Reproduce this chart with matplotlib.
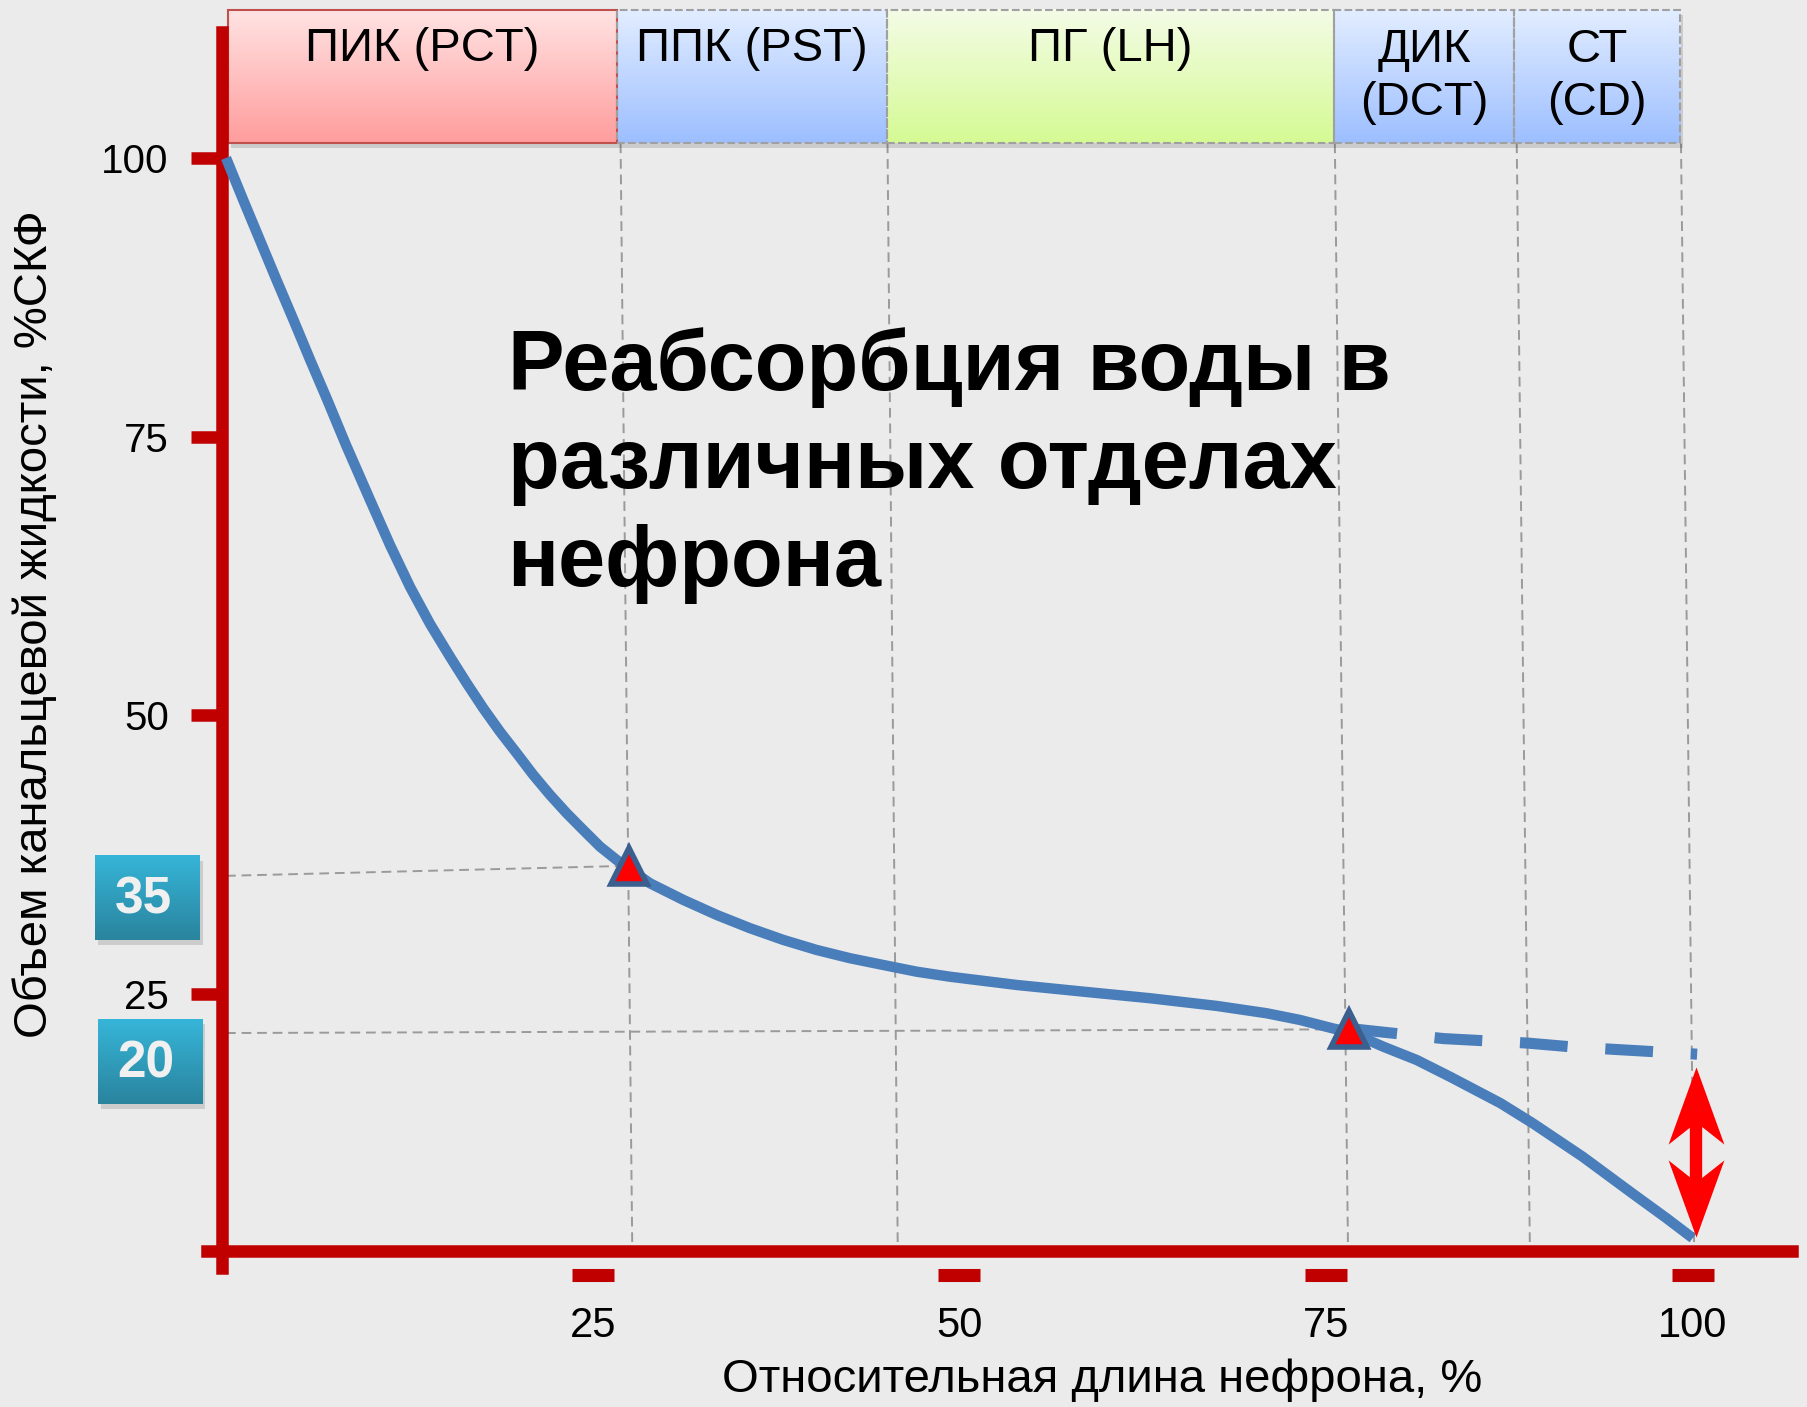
import numpy as np
import matplotlib.pyplot as plt
import matplotlib.colors as mcolors
from matplotlib.patches import Rectangle
from matplotlib.path import Path

plt.rcParams['font.family'] = ['Liberation Sans', 'DejaVu Sans']

# values (x: % of nephron length, y: % of GFR)
curve_x = [0, 1.18, 2.32, 3.46, 4.59, 5.73, 6.87, 8.18, 9.82, 11.18, 12.55, 13.91, 15.27,
           16.41, 17.54, 18.68, 19.82, 20.95, 22.09, 23.23, 24.36, 25.5, 26.64, 28.91,
           31.18, 33.46, 35.73, 38.0, 40.27, 42.54, 44.82, 47.09, 49.36, 53.91, 58.45,
           63.0, 67.55, 70.96, 73.23, 75.5, 76.6, 78.91, 81.18, 83.45, 86.9, 89.1, 92.5,
           95.9, 98.2, 100.0]
curve_y = [100, 96.2, 92.6, 89.0, 85.5, 81.9, 78.4, 74.25, 69.32, 65.28, 61.51, 58.2, 55.26,
           52.88, 50.63, 48.53, 46.6, 44.65, 42.86, 41.21, 39.71, 38.22, 37.02, 34.93,
           33.44, 32.09, 30.9, 29.85, 28.95, 28.21, 27.6, 27.0, 26.55, 25.81, 25.21,
           24.62, 23.93, 23.27, 22.67, 21.9, 21.6, 20.27, 19.08, 17.58, 15.2, 13.4, 10.4,
           7.1, 4.9, 3.1]
# without reabsorption in the collecting duct
nodh_x = [76.6, 83.0, 88.7, 91.8, 100.3]
nodh_y = [21.9, 21.0, 20.6, 20.25, 19.6]

mark_x = [27.48, 76.57]
mark_y = [36.5, 21.83]
guide_left_y = [35.6, 21.5]
mark_labels = ['35', '20']

regions = ['ПИК (PCT)', 'ППК (PST)', 'ПГ (LH)', 'ДИК\n(DCT)', 'СТ\n(CD)']
region_edges = [0.16, 26.65, 45.05, 75.55, 87.81, 99.14]
guide_top_x = [26.9, 45.1, 75.6, 88.0, 99.2]
guide_bot_x = [27.7, 45.8, 76.5, 88.9, 100.1]

y_ticks = [25, 50, 75, 100]
x_ticks = [25, 50, 75, 100]
gap_x = 100.2
gap_y = [3.23, 18.48]

BG = '#ebebeb'
RED = '#c00000'
BLUE = '#4a7ebb'

fig = plt.figure(figsize=(18.08, 14.07), dpi=100, facecolor=BG)
ax = fig.add_axes([0, 0, 1, 1], facecolor=BG)


def gradient_box(x0, x1, y0, y1, c_top, c_bot, z):
    c1 = np.array(mcolors.to_rgb(c_top))
    c2 = np.array(mcolors.to_rgb(c_bot))
    t = np.linspace(0, 1, 64)[:, None]
    img = (c1 * (1 - t) + c2 * t)[:, None, :]
    ax.add_patch(Rectangle((x0 + 0.2, y0 - 0.45), x1 - x0, y1 - y0, color='k',
                           alpha=0.13, lw=0, zorder=z - 0.2))
    ax.imshow(img, extent=[x0, x1, y0, y1], origin='upper', aspect='auto',
              interpolation='bilinear', zorder=z)


# nephron segment headers
box_lo, box_hi = 101.3, 113.3
styles = [('#ffe3e3', '#ff9d9d', '#c0504d', '-'),
          ('#e2edff', '#9dbfff', '#a0a0a0', '--'),
          ('#f4fce6', '#d5fa94', '#a0a0a0', '--'),
          ('#e2edff', '#9dbfff', '#a0a0a0', '--'),
          ('#e2edff', '#9dbfff', '#a0a0a0', '--')]
for i, name in enumerate(regions):
    x0, x1 = region_edges[i], region_edges[i + 1]
    ctop, cbot, ec, ls = styles[i]
    gradient_box(x0, x1, box_lo, box_hi, ctop, cbot, 3)
    ax.add_patch(Rectangle((x0, box_lo), x1 - x0, box_hi - box_lo, fill=False,
                           ec=ec, lw=1.5, ls=ls, zorder=3.5))
    ty = 109.8 if '\n' not in name else 107.3
    ax.text((x0 + x1) / 2, ty, name, ha='center', va='center', fontsize=34,
            linespacing=1.27, zorder=4)

# guide lines
for t, b in zip(guide_top_x, guide_bot_x):
    ax.plot([t, b], [box_lo, 1.9], color='#9a9a9a', lw=1.4, ls=(0, (5, 3)), zorder=1)
for gy, mx, my in zip(guide_left_y, mark_x, mark_y):
    ax.plot([0, mx], [gy, my], color='#9a9a9a', lw=1.4, ls=(0, (5, 3)), zorder=1)

# curves
ax.plot(nodh_x, nodh_y, color=BLUE, lw=8, ls=(0, (4.3, 3.4)), dash_capstyle='butt',
        zorder=5)
ax.plot(curve_x, curve_y, color=BLUE, lw=7.5, solid_capstyle='butt',
        solid_joinstyle='round', zorder=5)
ax.plot(mark_x, mark_y, ls='none', marker='^', ms=26, mfc='#ff0000', mec='#3b5f8e',
        mew=4, zorder=7)

# double arrow at the end of the collecting duct (barbed heads, tip at the origin)
head_up = Path([(0, 0), (-0.362, -1), (0, -0.714), (0.362, -1), (0, 0)],
               [Path.MOVETO, Path.LINETO, Path.LINETO, Path.LINETO, Path.CLOSEPOLY])
head_dn = Path([(0, 0), (-0.362, 1), (0, 0.714), (0.362, 1), (0, 0)],
               [Path.MOVETO, Path.LINETO, Path.LINETO, Path.LINETO, Path.CLOSEPOLY])
notch = 4.5
ax.plot([gap_x, gap_x], [gap_y[0] + notch, gap_y[1] - notch], color='#ff0000', lw=8.9,
        solid_capstyle='butt', zorder=6)
ax.plot([gap_x], [gap_y[1]], ls='none', marker=head_up, ms=111, mfc='#ff0000', mew=0,
        zorder=6)
ax.plot([gap_x], [gap_y[0]], ls='none', marker=head_dn, ms=111, mfc='#ff0000', mew=0,
        zorder=6)

# value boxes 35 / 20
for lab, (b0, b1) in zip(mark_labels, [(29.86, 37.41), (15.17, 22.72)]):
    x0 = -8.9 if lab == '35' else -8.75
    gradient_box(x0, x0 + 7.15, b0, b1, '#36b5d8', '#2a849e', 3)
    ax.text(x0 + 3.3, (b0 + b1) / 2 - 0.2, lab, ha='center', va='center', fontsize=37,
            fontweight='bold', color='#f0f0f0', zorder=4)

# axes
for s in ['top', 'right']:
    ax.spines[s].set_visible(False)
ax.spines['left'].set_position(('data', -0.3))
ax.spines['left'].set_bounds(0.4, 111.3)
ax.spines['bottom'].set_position(('data', 1.9))
ax.spines['bottom'].set_bounds(-1.3, 106.8)
for s in ['left', 'bottom']:
    ax.spines[s].set_color(RED)
    ax.spines[s].set_linewidth(9)
    ax.spines[s].set_zorder(4)

ax.set_yticks(y_ticks)
ax.set_yticklabels([str(v) for v in y_ticks])
ax.tick_params(axis='y', direction='out', length=22, width=9, color=RED, pad=16,
               labelsize=29)
ax.set_xticks(x_ticks)
ax.set_xticklabels([str(v) for v in x_ticks])
ax.tick_params(axis='x', length=0, pad=39, labelsize=30)
ax.plot(x_ticks, [-0.2] * len(x_ticks), ls='none', marker='_', ms=30, mew=9.4,
        color=RED, clip_on=False, zorder=4)

ax.text(-13.05, 58.2, 'Объем канальцевой жидкости, %СКФ', rotation=90, ha='center',
        va='center', fontsize=34)
ax.text(59.75, -9.65, 'Относительная длина нефрона, %', ha='center', va='center',
        fontsize=34)
ax.text(19.2, 84.8, 'Реабсорбция воды в\nразличных отделах\nнефрона', ha='left',
        va='top', fontsize=61, fontweight='bold', linespacing=1.29)

ax.set_xlim(-15.41, 107.86)
ax.set_ylim(-12.05, 114.17)

fig.savefig('out.png', dpi=100, facecolor=BG)
